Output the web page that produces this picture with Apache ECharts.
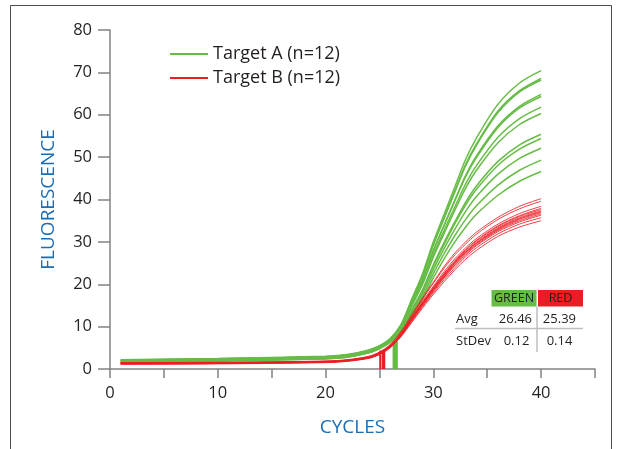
<!DOCTYPE html>
<html>
<head>
<meta charset="utf-8">
<script src="https://cdn.jsdelivr.net/npm/echarts@6/dist/echarts.min.js"></script>
<style>
html,body{margin:0;padding:0;background:#fff;}
#chart{width:619px;height:449px;}
</style>
</head>
<body>
<div id="chart"></div>
<script>
// ---- data ----
const cycles = [1, 10, 20, 22, 24, 25, 26, 27, 28, 29, 30, 31, 32, 33, 34, 36, 38, 40];

const targetA = [
  [2.2,2.5,3.0,3.4,4.5,5.5, 7.2,10.5,16.5,22.5,30.0,36.5,43.0,49.5,54.5,62.5,67.5,70.4],
  [1.9,2.2,2.7,3.2,4.3,5.3, 7.1,10.4,16.2,22.0,29.4,35.7,42.0,48.3,53.1,60.9,65.7,68.6],
  [2.1,2.4,2.9,3.3,4.4,5.4, 7.1,10.3,16.1,21.9,29.2,35.5,41.8,48.0,52.8,60.5,65.4,68.2],
  [1.7,2.0,2.5,3.0,4.1,5.1, 7.0,10.1,15.6,21.1,28.0,34.0,39.9,45.7,50.3,57.4,62.0,64.8],
  [2.0,2.3,2.8,3.2,4.2,5.2, 7.0,10.0,15.5,21.0,27.8,33.8,39.7,45.4,49.9,57.0,61.6,64.3],
  [1.8,2.1,2.6,3.0,4.1,5.1, 6.9,9.8,15.1,20.3,26.9,32.7,38.3,43.7,48.0,54.7,59.1,61.8],
  [2.1,2.4,2.9,3.3,4.3,5.2, 6.8,9.7,14.8,20.0,26.4,32.0,37.5,42.7,46.9,53.4,57.7,60.3],
  [1.7,2.0,2.5,2.9,3.9,4.9, 6.6,9.4,14.0,18.7,24.6,29.9,34.8,39.4,43.2,49.0,52.9,55.4],
  [1.9,2.2,2.7,3.1,4.0,5.0, 6.6,9.3,13.8,18.5,24.3,29.4,34.3,38.7,42.4,48.1,51.9,54.4],
  [1.6,1.9,2.4,2.8,3.8,4.8, 6.5,9.1,13.4,17.9,23.5,28.4,33.0,37.2,40.7,46.0,49.7,52.1],
  [1.8,2.1,2.6,3.0,3.9,4.9, 6.4,8.9,13.0,17.2,22.5,27.2,31.5,35.3,38.5,43.4,46.9,49.3],
  [1.6,1.9,2.4,2.8,3.8,4.8, 6.3,8.7,12.5,16.5,21.5,26.0,30.0,33.5,36.5,41.0,44.3,46.6]
];

const targetB = [
  [1.5,1.6,1.9,2.2,3.0,4.0, 5.8,8.8,12.8,16.8,20.5,24.2,27.4,30.0,32.3,35.8,38.4,40.2],
  [1.3,1.4,1.7,2.0,2.8,3.8, 5.7,8.7,12.6,16.5,20.2,23.8,26.9,29.5,31.8,35.3,37.8,39.6],
  [1.4,1.5,1.8,2.1,2.9,3.9, 5.5,8.4,12.2,16.0,19.5,23.0,26.0,28.6,30.8,34.2,36.7,38.4],
  [1.2,1.3,1.6,1.9,2.7,3.6, 5.4,8.3,12.0,15.7,19.2,22.6,25.6,28.2,30.4,33.8,36.2,37.9],
  [1.4,1.5,1.8,2.1,2.8,3.7, 5.4,8.2,11.9,15.6,19.1,22.4,25.4,28.0,30.2,33.6,36.0,37.6],
  [1.3,1.4,1.7,2.0,2.7,3.7, 5.4,8.1,11.8,15.5,18.9,22.2,25.2,27.7,29.9,33.3,35.7,37.3],
  [1.2,1.3,1.6,1.9,2.6,3.6, 5.3,8.1,11.7,15.4,18.8,22.1,25.0,27.6,29.7,33.1,35.5,37.1],
  [1.4,1.5,1.8,2.1,2.8,3.8, 5.3,8.0,11.7,15.3,18.7,21.9,24.9,27.4,29.6,32.9,35.3,36.9],
  [1.3,1.4,1.7,2.0,2.7,3.6, 5.2,8.0,11.6,15.1,18.5,21.7,24.6,27.2,29.3,32.7,35.0,36.6],
  [1.2,1.3,1.6,1.9,2.6,3.5, 5.2,7.9,11.5,15.0,18.3,21.5,24.4,26.9,29.1,32.4,34.7,36.3],
  [1.3,1.4,1.7,2.0,2.6,3.5, 5.1,7.8,11.2,14.7,18.0,21.1,23.9,26.5,28.6,31.9,34.2,35.7],
  [1.1,1.2,1.5,1.8,2.5,3.4, 5.0,7.6,11.0,14.4,17.6,20.6,23.4,25.9,28.0,31.3,33.5,35.0]
];

const greenCt = [26.28, 26.32, 26.36, 26.39, 26.42, 26.45, 26.47, 26.50, 26.53, 26.56, 26.60, 26.64];
const redCt = [25.04, 25.07, 25.10, 25.13, 25.30, 25.33, 25.36, 25.39, 25.41, 25.43, 25.46, 25.49];
const greenThreshold = 6.5;
const redThreshold = 4.3;

const seriesNames = ['Target A (n=12)', 'Target B (n=12)'];
const xTicks = [0, 10, 20, 30, 40];
const tableHeaders = ['GREEN', 'RED'];
const tableRowLabels = ['Avg', 'StDev'];
const tableAvg = ['26.46', '25.39'];
const tableStDev = ['0.12', '0.14'];

// ---- styles ----
const GREEN = '#66bc46';
const RED = '#ed1c24';
const FONT = 'Open Sans';
const TXT = '#231f20';
const AXIS = '#808285';
const BLUE = '#1b6db5';

const series = [];
targetA.forEach(arr => {
  series.push({
    name: seriesNames[0], type: 'line', showSymbol: false, symbol: 'none',
    smooth: 0.3, silent: true,
    data: cycles.map((c, i) => [c, arr[i]]),
    itemStyle: {color: GREEN}, lineStyle: {color: GREEN, width: 1.5}, z: 2
  });
});
targetB.forEach(arr => {
  series.push({
    name: seriesNames[1], type: 'line', showSymbol: false, symbol: 'none',
    smooth: 0.3, silent: true,
    data: cycles.map((c, i) => [c, arr[i]]),
    itemStyle: {color: RED}, lineStyle: {color: RED, width: 1.0, opacity: 0.85}, z: 3
  });
});
greenCt.forEach(ct => {
  series.push({
    type: 'line', showSymbol: false, symbol: 'none', silent: true,
    data: [[ct, 0], [ct, greenThreshold]],
    lineStyle: {color: GREEN, width: 1.3}, z: 2
  });
});
redCt.forEach(ct => {
  series.push({
    type: 'line', showSymbol: false, symbol: 'none', silent: true,
    data: [[ct, 0], [ct, redThreshold]],
    lineStyle: {color: RED, width: 1.1}, z: 3
  });
});

const chart = echarts.init(document.getElementById('chart'), null, {renderer: 'canvas'});
chart.setOption({
  animation: false,
  backgroundColor: '#fff',
  textStyle: {fontFamily: FONT},
  grid: {left: 110, top: 30, width: 485, height: 339, containLabel: false},
  legend: {
    left: 170, top: 44, orient: 'vertical', itemGap: 4, padding: 0,
    itemWidth: 38, itemHeight: 2,
    data: [{name: seriesNames[0], icon: 'rect', itemStyle: {color: GREEN}},
           {name: seriesNames[1], icon: 'rect', itemStyle: {color: RED}}],
    textStyle: {fontFamily: FONT, fontSize: 18, color: TXT, lineHeight: 20},
    selectedMode: false
  },
  xAxis: {
    type: 'value', min: 0, max: 45, interval: 5,
    name: 'CYCLES', nameLocation: 'middle', nameGap: 49,
    nameTextStyle: {color: BLUE, fontSize: 19, fontFamily: FONT},
    axisLine: {show: true, onZero: false, lineStyle: {color: AXIS, width: 1.5}},
    axisTick: {show: true, length: 9, lineStyle: {color: AXIS, width: 1.5}},
    axisLabel: {
      margin: 16, fontSize: 16.5, color: TXT, fontFamily: FONT,
      formatter: v => (xTicks.indexOf(v) >= 0 ? String(v) : '')
    },
    splitLine: {show: false}
  },
  yAxis: {
    type: 'value', min: 0, max: 80, interval: 10,
    name: 'FLUORESCENCE', nameLocation: 'middle', nameGap: 52, nameRotate: 90,
    nameTextStyle: {color: BLUE, fontSize: 19, fontFamily: FONT},
    axisLine: {show: true, lineStyle: {color: AXIS, width: 1.5}},
    axisTick: {show: true, length: 12, lineStyle: {color: AXIS, width: 1.5}},
    axisLabel: {margin: 18, fontSize: 16.5, color: TXT, fontFamily: FONT},
    splitLine: {show: false}
  },
  series: series,
  graphic: [
    {type: 'rect', silent: true, shape: {x: 10.5, y: 5.5, width: 601, height: 470},
     style: {fill: 'none', stroke: '#4d4d4f', lineWidth: 1}},
    {type: 'rect', silent: true, shape: {x: 491.5, y: 290, width: 45, height: 16.5}, style: {fill: GREEN}},
    {type: 'rect', silent: true, shape: {x: 538, y: 290, width: 45, height: 16.5}, style: {fill: RED}},
    {type: 'text', silent: true, x: 514, y: 298.5,
     style: {text: tableHeaders[0], fill: TXT, font: '12.5px "Open Sans"', align: 'center', verticalAlign: 'middle'}},
    {type: 'text', silent: true, x: 560.5, y: 298.5,
     style: {text: tableHeaders[1], fill: TXT, font: '12.5px "Open Sans"', align: 'center', verticalAlign: 'middle'}},
    {type: 'text', silent: true, x: 456, y: 319,
     style: {text: tableRowLabels[0], fill: TXT, font: '13px "Open Sans"', align: 'left', verticalAlign: 'middle'}},
    {type: 'text', silent: true, x: 532, y: 319,
     style: {text: tableAvg[0], fill: TXT, font: '13px "Open Sans"', align: 'right', verticalAlign: 'middle'}},
    {type: 'text', silent: true, x: 576, y: 319,
     style: {text: tableAvg[1], fill: TXT, font: '13px "Open Sans"', align: 'right', verticalAlign: 'middle'}},
    {type: 'line', silent: true, shape: {x1: 455, y1: 328.5, x2: 583, y2: 328.5},
     style: {stroke: '#bcbec0', lineWidth: 1.5}},
    {type: 'line', silent: true, shape: {x1: 537, y1: 306.5, x2: 537, y2: 352},
     style: {stroke: '#bcbec0', lineWidth: 1.5}},
    {type: 'text', silent: true, x: 456, y: 341,
     style: {text: tableRowLabels[1], fill: TXT, font: '13px "Open Sans"', align: 'left', verticalAlign: 'middle'}},
    {type: 'text', silent: true, x: 516.5, y: 341,
     style: {text: tableStDev[0], fill: TXT, font: '13px "Open Sans"', align: 'center', verticalAlign: 'middle'}},
    {type: 'text', silent: true, x: 559.5, y: 341,
     style: {text: tableStDev[1], fill: TXT, font: '13px "Open Sans"', align: 'center', verticalAlign: 'middle'}}
  ]
});
</script>
</body>
</html>
